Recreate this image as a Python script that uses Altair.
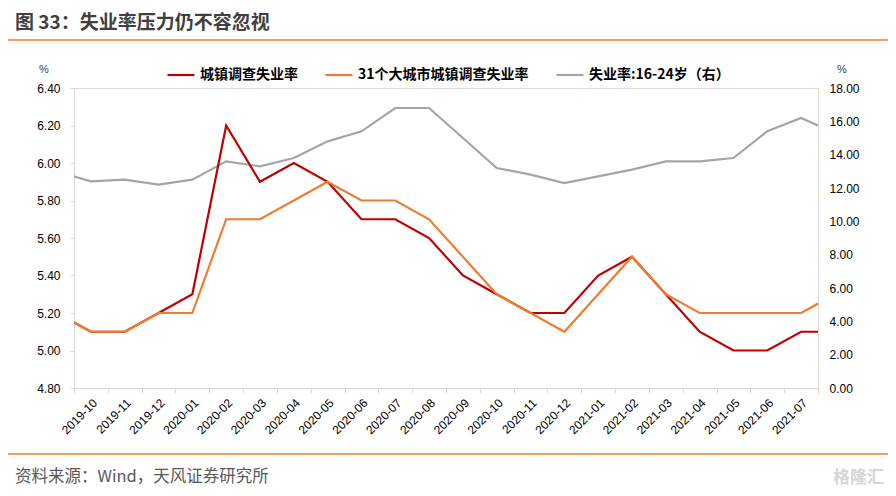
import altair as alt
import pandas as pd

# ---- data ----
months = ["2019-09", "2019-10", "2019-11", "2019-12", "2020-01", "2020-02", "2020-03",
          "2020-04", "2020-05", "2020-06", "2020-07", "2020-08", "2020-09", "2020-10",
          "2020-11", "2020-12", "2021-01", "2021-02", "2021-03", "2021-04", "2021-05",
          "2021-06", "2021-07", "2021-08"]
urban = [5.2, 5.1, 5.1, 5.2, 5.3, 6.2, 5.9, 6.0, 5.9, 5.7, 5.7, 5.6, 5.4, 5.3,
         5.2, 5.2, 5.4, 5.5, 5.3, 5.1, 5.0, 5.0, 5.1, 5.1]
city31 = [5.2, 5.1, 5.1, 5.2, 5.2, 5.7, 5.7, 5.8, 5.9, 5.8, 5.8, 5.7, 5.5, 5.3,
          5.2, 5.1, 5.3, 5.5, 5.3, 5.2, 5.2, 5.2, 5.2, 5.3]
youth = [13.0, 12.4, 12.5, 12.2, 12.5, 13.6, 13.3, 13.8, 14.8, 15.4, 16.8, 16.8, 15.0, 13.2,
         12.8, 12.3, 12.7, 13.1, 13.6, 13.6, 13.8, 15.4, 16.2, 15.3]
tick_labels = months[1:23]
series_names = ["城镇调查失业率", "31个大城市城镇调查失业率", "失业率:16-24岁（右）"]
series_colors = ["#C00000", "#ED7D31", "#A5A5A5"]
left_ticks = [4.8, 5.0, 5.2, 5.4, 5.6, 5.8, 6.0, 6.2, 6.4]
right_ticks = [0, 2, 4, 6, 8, 10, 12, 14, 16, 18]

rows = []
for i, m in enumerate(months):
    pos = i - 0.5
    rows.append({"month": m, "pos": pos, "series": series_names[0], "value": urban[i]})
    rows.append({"month": m, "pos": pos, "series": series_names[1], "value": city31[i]})
    rows.append({"month": m, "pos": pos, "series": series_names[2], "value": youth[i]})
df = pd.DataFrame(rows)

W, H = 744, 300
FONT = "Noto Sans CJK SC"
NUMFONT = "Liberation Sans"

label_arr = "[" + ",".join("'%s'" % t for t in tick_labels) + "]"
x_enc = alt.X(
    "pos:Q",
    scale=alt.Scale(domain=[0, 22], nice=False, zero=False),
    axis=alt.Axis(
        values=list(range(23)),
        labelExpr="datum.value < 22 ? %s[datum.value] : ''" % label_arr,
        labelAngle=-45, labelOffset=17, labelPadding=4, labelFlush=False, labelOverlap=False,
        labelFont=NUMFONT, labelFontSize=12, labelColor="#000000",
        domainColor="#D9D9D9", tickColor="#D9D9D9", tickSize=5, grid=False, title=None,
    ),
)

color_enc = alt.Color(
    "series:N",
    scale=alt.Scale(domain=series_names, range=series_colors),
    legend=alt.Legend(
        title=None, orient="none", legendX=92, legendY=-28, direction="horizontal",
        symbolType="stroke", symbolSize=729, symbolStrokeWidth=2.2, labelOffset=4,
        columnPadding=23, labelFont=FONT, labelFontSize=14, labelFontWeight="bold",
        labelColor="#000000", labelLimit=400, padding=0,
    ),
)

left_y = alt.Y(
    "value:Q",
    scale=alt.Scale(domain=[4.8, 6.4], nice=False, zero=False),
    axis=alt.Axis(
        orient="left", values=left_ticks, format=".2f", title=None, grid=False,
        labelFont=NUMFONT, labelFontSize=12, labelColor="#000000", labelPadding=10,
        domainColor="#D9D9D9", tickColor="#D9D9D9", tickSize=4,
    ),
)
right_y = alt.Y(
    "value:Q",
    scale=alt.Scale(domain=[0, 18], nice=False, zero=True),
    axis=alt.Axis(
        orient="right", values=right_ticks, format=".2f", title=None, grid=False,
        labelFont=NUMFONT, labelFontSize=12, labelColor="#000000", labelPadding=11,
        domain=False, ticks=False, tickSize=0,
    ),
)

base = alt.Chart(df)
red = base.transform_filter(alt.datum.series == series_names[0]).mark_line(
    strokeWidth=2.2, clip=True).encode(x=x_enc, y=left_y, color=color_enc)
orange = base.transform_filter(alt.datum.series == series_names[1]).mark_line(
    strokeWidth=2.2, clip=True).encode(x=x_enc, y=left_y, color=color_enc)
gray = base.transform_filter(alt.datum.series == series_names[2]).mark_line(
    strokeWidth=2.2, clip=True).encode(x=x_enc, y=right_y, color=color_enc)

left_layer = alt.layer(red, orange)

# ---- decorations ----
deco = pd.DataFrame({"k": [0]})
def txt(s, x, y, size, color, weight="normal", align="left", font=FONT):
    return alt.Chart(deco).mark_text(
        text=s, align=align, baseline="middle", font=font, fontSize=size,
        fontWeight=weight, color=color,
    ).encode(x=alt.value(x), y=alt.value(y))

def hrule(y, color):
    return alt.Chart(deco).mark_rule(color=color, strokeWidth=1.3).encode(
        x=alt.value(-66), x2=alt.value(814), y=alt.value(y))

title = txt("图 33：失业率压力仍不容忽视", -59, -65, 19, "#404040", weight="bold")
line_top = hrule(-48, "#ED7D31")
pct_left = txt("%", -30, -18, 11, "#404040", align="center", font=NUMFONT)
pct_right = txt("%", 768, -18, 11, "#404040", align="center", font=NUMFONT)
line_bottom = hrule(366, "#ED7D31")
source = txt("资料来源：Wind，天风证券研究所", -59, 389, 16.5, "#595959")
mark_wm = txt("格隆汇", 810, 390, 17, "#D6D6D6", weight="bold", align="right")

chart = alt.layer(
    gray, left_layer, title, line_top, pct_left, pct_right, line_bottom, source, mark_wm
).resolve_scale(y="independent").properties(
    width=W, height=H,
    autosize=alt.AutoSizeParams(type="none"),
    padding={"left": 66, "top": 80, "right": 70, "bottom": 100},
).configure_view(stroke=None).configure(background="#FFFFFF")

chart.save("out.html", embed_options={"renderer": "svg", "actions": False})
